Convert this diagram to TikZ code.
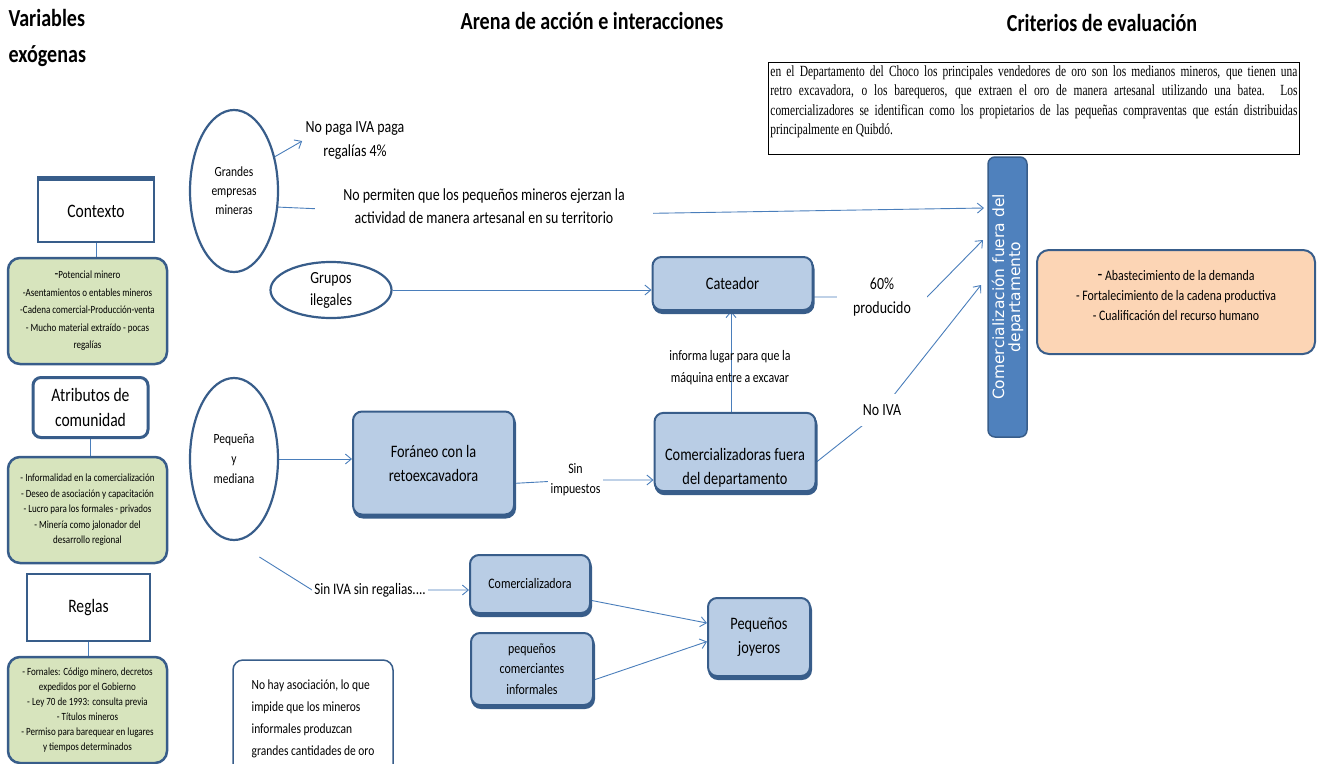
\documentclass[tikz,border=0pt]{standalone}
\usepackage{fontspec}
\setmainfont{Carlito}[FakeStretch=0.82]
\newfontfamily\notafont{Liberation Serif}[FakeStretch=0.74]
\newfontfamily\barrafont{DejaVu Sans}
\usetikzlibrary{shapes.geometric,shadows,arrows.meta,backgrounds}

\definecolor{borde}{HTML}{385D8A}
\definecolor{linea}{HTML}{4A7EBB}
\definecolor{azulclaro}{HTML}{B9CDE5}
\definecolor{azulbarra}{HTML}{4F81BD}
\definecolor{verde}{HTML}{D7E4BD}
\definecolor{durazno}{HTML}{FCD5B5}

\newcommand{\tam}[2]{\fontsize{#1}{#2}\selectfont}

\tikzset{
  titulo/.style={font=\bfseries\tam{24.5}{36}},
  cabeza/.style={draw=borde, fill=white, line width=1.5pt, align=center, font=\tam{19}{25}},
  lista/.style={draw=borde, fill=verde, line width=2.5pt, rounded corners=12pt, minimum width=159pt, minimum height=106pt, inner sep=2pt, align=center},
  elipse/.style={ellipse, draw=borde, line width=2.2pt, inner sep=0pt, align=center},
  caja/.style={draw=borde, fill=azulclaro, line width=2pt, rounded corners=9pt, align=center, font=\tam{17.5}{24},
    copy shadow={shadow xshift=1pt, shadow yshift=-3pt, fill=borde, draw=borde}},
  etiq/.style={align=center, font=\tam{17}{24}},
  tapa/.style={etiq, fill=white},
  conn/.style={draw=linea, line width=0.9pt},
  flecha/.style={conn, -{Straight Barb[length=6pt,width=10pt]}},
}

\begin{document}
\begin{tikzpicture}[x=1pt,y=-1pt]
\useasboundingbox (0,0) rectangle (1324,763);

%titulos
\node[titulo, align=left, anchor=west] (tvar) at (5,38) {Variables\\exógenas};
\node[titulo] (tarena) at (592,21) {Arena de acción e interacciones};
\node[titulo] (tcrit) at (1102,23) {Criterios de evaluación};

%variables exogenas
\node[cabeza, minimum width=116pt, minimum height=62pt,
      copy shadow={shadow xshift=0pt, shadow yshift=3pt, fill=borde, draw=borde}] (contexto) at (96,211) {Contexto};
\node[lista, font=\tam{11}{17.5}] (lcontexto) at (87.5,311)
  {{\tam{15}{17.5}-}Potencial minero\\-Asentamientos o entables mineros\\-Cadena comercial-Producción-venta\\- Mucho material extraído - pocas\\regalías};
\node[cabeza, rounded corners=8pt, line width=3pt, minimum width=115pt, minimum height=60pt] (atributos) at (90.5,407.5) {Atributos de\\comunidad};
\node[lista, font=\tam{11}{15.5}] (latributos) at (87.5,510)
  {- Informalidad en la comercialización\\- Deseo de asociación y capacitación\\- Lucro para los formales - privados\\- Minería como jalonador del\\desarrollo regional};
\node[cabeza, minimum width=123pt, minimum height=67pt] (reglas) at (88.5,607.5) {Reglas};
\node[lista, font=\tam{11}{15}] (lreglas) at (87.5,710)
  {- Fornales: Código minero, decretos\\expedidos por el Gobierno\\- Ley 70 de 1993: consulta previa\\- Títulos mineros\\- Permiso para barequear en lugares\\y tiempos determinados};

%arena
\node[elipse, minimum width=88pt, minimum height=162pt, font=\tam{14}{19}] (grandes) at (234,191) {Grandes\\empresas\\mineras};
\node[elipse, minimum width=121pt, minimum height=56pt, font=\tam{17}{22}] (ilegales) at (331,290) {Grupos\\ilegales};
\node[elipse, minimum width=88pt, minimum height=162pt, font=\tam{14}{20}] (pequena) at (234,459) {Pequeña\\y\\mediana};

\node[etiq] (iva) at (355,141) {No paga IVA paga\\regalías 4\%};
\node[tapa, inner xsep=28pt, font=\tam{17}{23}] (permiten) at (484,206) {No permiten que los pequeños mineros ejerzan la\\actividad de manera artesanal en su territorio};

\node[caja, minimum width=160pt, minimum height=53pt] (cateador) at (732.5,283.5) {Cateador};
\node[caja, minimum width=161pt, minimum height=103pt] (foraneo) at (433.5,463) {Foráneo con la\\retoexcavadora};
\node[caja, minimum width=161pt, minimum height=75pt] (comfuera) at (735,452) {\strut\\[4pt]Comercializadoras fuera\\del departamento};

\node[etiq, font=\tam{14.5}{22}] (informa) at (730,368) {informa lugar para que la\\máquina entre a excavar};
\node[tapa, inner xsep=16pt] (pct) at (882,297) {60\%\\producido};
\node[tapa, inner sep=10pt] (noiva) at (882,410) {No IVA};
\node[tapa, font=\tam{14.5}{20}, inner sep=3pt] (sinimp) at (575.5,480) {Sin\\impuestos};
\node[tapa, font=\tam{16}{20}, inner sep=2pt] (siniva) at (370,590) {Sin IVA sin regalias....};

\node[caja, minimum width=120pt, minimum height=58pt, font=\tam{14.5}{20}] (comerc) at (530,584) {Comercializadora};
\node[caja, minimum width=122pt, minimum height=72pt, font=\tam{14.5}{20.5}] (informales) at (532,669) {pequeños\\comerciantes\\informales};
\node[caja, minimum width=102pt, minimum height=78pt] (joyeros) at (759,637) {Pequeños\\joyeros};

\node[draw=borde, line width=1.5pt, rounded corners=10pt, fill=white, minimum width=160pt, minimum height=118pt,
      align=left, font=\tam{14}{22}] (asoc) at (313,719)
  {No hay asociación, lo que\\impide que los mineros\\informales produzcan\\grandes cantidades de oro};

%criterios
\node[draw=black, line width=0.8pt, fill=white, anchor=north west, inner xsep=2pt, inner ysep=3pt] (nota) at (768,62)
  {\parbox[t][86pt][t]{527pt}{\notafont\tam{15.5}{19.5}en el Departamento del Choco los principales vendedores de oro son los medianos mineros, que tienen una\linebreak
   retro excavadora, o los barequeros, que extraen el oro de manera artesanal utilizando una batea. Los\linebreak
   comercializadores se identifican como los propietarios de las pequeñas compraventas que están distribuidas\linebreak
   principalmente en Quibdó.}};
\node[draw=borde, fill=azulbarra, line width=1.5pt, rounded corners=7pt, rotate=90, minimum width=280pt, minimum height=39pt,
      inner sep=1pt, text=white, font=\barrafont\tam{15.5}{16}, align=center] (barra) at (1007.5,297)
  {Comercialización fuera del\\departamento};
\node[draw=borde, fill=durazno, line width=2pt, rounded corners=12pt, minimum width=278pt, minimum height=104pt,
      font=\tam{14.5}{20}, align=center] (crit) at (1176,302)
  {{\tam{19}{20}-} Abastecimiento de la demanda\\- Fortalecimiento de la cadena productiva\\- Cualificación del recurso humano\\[-12pt]\strut};

\coordinate (e-terr) at (984,208);
\coordinate (e-prod) at (983,240);
\coordinate (e-noiva) at (981,285);

%conectores
\begin{scope}[on background layer]
\draw[conn] (contexto.south) -- (contexto.south |- lcontexto.north);
\draw[conn] (atributos.south) -- (atributos.south |- latributos.north);
\draw[conn] (reglas.south) -- (reglas.south |- lreglas.north);
\draw[flecha] (grandes.40) -- (iva.west);
\draw[flecha] (grandes.-20) -- ([yshift=-10pt]permiten.center) -- (e-terr);
\draw[flecha] (ilegales.east) -- (ilegales.east -| cateador.west);
\draw[flecha] (cateador.east |- pct.west) -- (pct.east) -- (e-prod);
\draw[flecha] ([xshift=-4pt]comfuera.north) -- ([xshift=-4pt]comfuera.north |- cateador.south);
\draw[flecha] ([yshift=-10pt]comfuera.east) -- (noiva.center) -- (e-noiva);
\draw[flecha] (pequena.east) -- (pequena.east -| foraneo.west);
\draw[flecha] (foraneo.-14) -- (sinimp.center) -- (sinimp.center -| comfuera.west);
\draw[flecha, shorten <=30pt] (pequena.south) -- (siniva.west) -- (siniva.west -| comerc.west);
\draw[flecha] (comerc.-15) -- (joyeros.165);
\draw[flecha] (informales.-10) -- (joyeros.-175);
\end{scope}
\end{tikzpicture}
\end{document}
